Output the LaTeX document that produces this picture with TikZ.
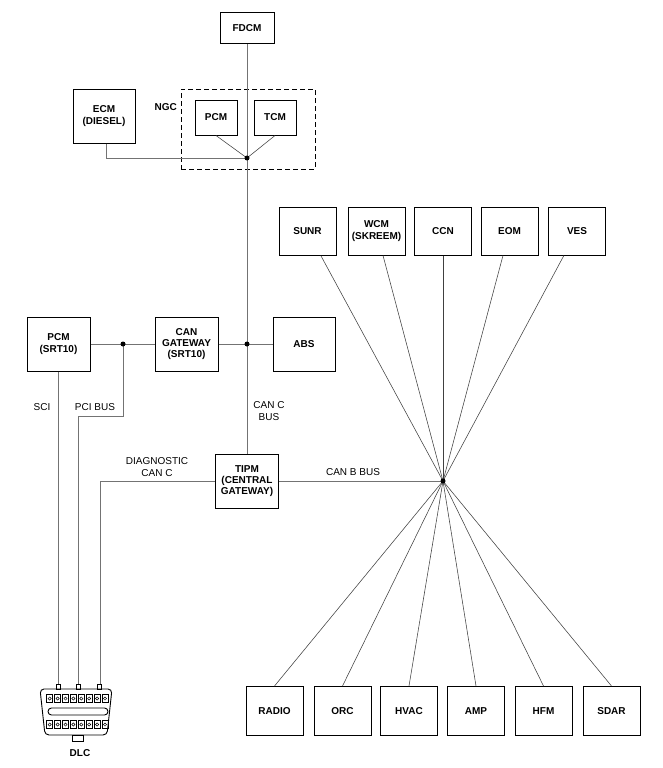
\documentclass[tikz,border=0pt]{standalone}
\usepackage{fontspec}
\setmainfont{Liberation Sans}
\usetikzlibrary{positioning}

\begin{document}
\begin{tikzpicture}[x=1pt, y=-1pt,
    box/.style={draw, line width=1pt, inner sep=0pt, align=center,
                font=\bfseries\fontsize{10}{11.3}\selectfont},
    big/.style={box, minimum width=63pt, minimum height=54pt},
    top/.style={box, minimum width=57pt, minimum height=48pt},
    bot/.style={box, minimum width=57pt, minimum height=49pt},
    wire/.style={draw=black!55, line width=0.9pt},
    spoke/.style={draw=black!75, line width=0.55pt},
    dot/.style={circle, fill=black, inner sep=0pt, minimum size=5pt},
    lbl/.style={align=center, inner sep=0pt, font=\fontsize{10}{11.3}\selectfont}]

         \useasboundingbox[fill=white] (0,0) rectangle (662,768);

         \node[box, minimum width=54pt, minimum height=31pt] (FDCM) at (247, 28.5) {FDCM};
         \node[box, minimum width=62pt, minimum height=54pt] (ECM) at (104, 116) {ECM\\(DIESEL)};
         \node[draw, line width=1pt, dash pattern=on 5pt off 3pt, minimum width=134pt,
               minimum height=80pt, inner sep=0pt] (NGC) at (248, 129) {};
         \node[lbl, font=\bfseries\fontsize{10}{11.3}\selectfont, anchor=east] (NGCL) at (177, 107) {NGC};
         \node[box, minimum width=42pt, minimum height=35pt] (PCM) at (216, 117.5) {PCM};
         \node[box, minimum width=42pt, minimum height=35pt] (TCM) at (275, 117.5) {TCM};
         \coordinate (J1) at (247, 158);

         \node[big] (PCMS) at (58.5, 344) {PCM\\(SRT10)};
         \node[big] (CANG) at (186.5, 344) {CAN\\GATEWAY\\(SRT10)};
         \node[big, minimum width=62pt] (ABS) at (304, 344) {ABS};
         \coordinate (J2) at (123, 344);
         \coordinate (J3) at (247, 344);
         \node[big] (TIPM) at (247, 481) {TIPM\\(CENTRAL\\GATEWAY)};
         \coordinate (HUB) at (443, 481);

         \node[top] (SUNR) at (307.5, 231) {SUNR};
         \node[top] (WCM)  at (376.5, 231) {WCM\\(SKREEM)};
         \node[top] (CCN)  at (443, 231) {CCN};
         \node[top] (EOM)  at (509.5, 231) {EOM};
         \node[top] (VES)  at (577, 231) {VES};

         \node[bot] (RADIO) at (274.5, 711) {RADIO};
         \node[bot] (ORC)   at (342.5, 711) {ORC};
         \node[bot] (HVAC)  at (409, 711) {HVAC};
         \node[bot] (AMP)   at (476, 711) {AMP};
         \node[bot] (HFM)   at (543.5, 711) {HFM};
         \node[bot] (SDAR)  at (611.5, 711) {SDAR};

         % DLC connector
         \draw[line width=0.9pt, rounded corners=4pt] (40,689) -- (112,689) -- (107,735) -- (45,735) -- cycle;
         \draw[line width=0.9pt] (72,735) rectangle (83,741);
         \draw[line width=0.9pt, rounded corners=3.5pt] (48,708) rectangle (108,715);
         \foreach \i in {0,...,7} {
             \draw[line width=0.6pt] (46.7+7.9*\i, 694) rectangle ++(6,8);
             \draw[line width=0.5pt] (49.7+7.9*\i, 698.5) circle (1.6);
             \draw[line width=0.6pt] (46.7+7.9*\i, 720) rectangle ++(6,8);
             \draw[line width=0.5pt] (49.7+7.9*\i, 724.5) circle (1.6);
         }
         \draw[line width=0.8pt] (56,684) rectangle (60,689);
         \draw[line width=0.8pt] (76,684) rectangle (80,689);
         \draw[line width=0.8pt] (97,684) rectangle (101,689);
         \coordinate (D1) at (58,684);
         \coordinate (D2) at (78,684);
         \coordinate (D3) at (99,684);
         \node[lbl, font=\bfseries\fontsize{10}{11.3}\selectfont] (DLC) at (80, 753) {DLC};

         \draw[wire] (FDCM) -- (TIPM);
         \draw[wire] (ECM.south -| 106,0) -- (106, 158) -- (J1);
         \draw[spoke] (PCM.south) -- (J1);
         \draw[spoke] (TCM.south) -- (J1);
         \draw[wire] (PCMS) -- (CANG);
         \draw[wire] (CANG) -- (ABS);
         \draw[wire] (J2) -- (123, 416) -- (78, 416) -- (D2);
         \draw[wire] (PCMS.south -| D1) -- (D1);
         \draw[wire] (TIPM.west) -- (100, 481) -- (100, 684);
         \draw[wire] (TIPM.east) -- (HUB);

         \draw[spoke] (HUB) -- (SUNR);
         \draw[spoke] (HUB) -- (WCM);
         \draw[spoke] (HUB) -- (CCN);
         \draw[spoke] (HUB) -- (EOM);
         \draw[spoke] (HUB) -- (VES);
         \draw[spoke] (HUB) -- (RADIO.north);
         \draw[spoke] (HUB) -- (ORC.north);
         \draw[spoke] (HUB) -- (HVAC.north);
         \draw[spoke] (HUB) -- (AMP.north);
         \draw[spoke] (HUB) -- (HFM.north);
         \draw[spoke] (HUB) -- (SDAR.north);

         \fill (J1) circle (2.5);
         \fill (J2) circle (2.5);
         \fill (J3) circle (2.5);
         \fill (HUB) circle (2.5);

         \node[lbl] (SCI)  at (42, 407) {SCI};
         \node[lbl] (PCIB) at (95, 407) {PCI BUS};
         \node[lbl] (CANC) at (269, 411) {CAN C\\BUS};
         \node[lbl] (DIAG) at (157, 467) {DIAGNOSTIC\\CAN C};
         \node[lbl] (CANB) at (353, 472) {CAN B BUS};
\end{tikzpicture}
\end{document}
